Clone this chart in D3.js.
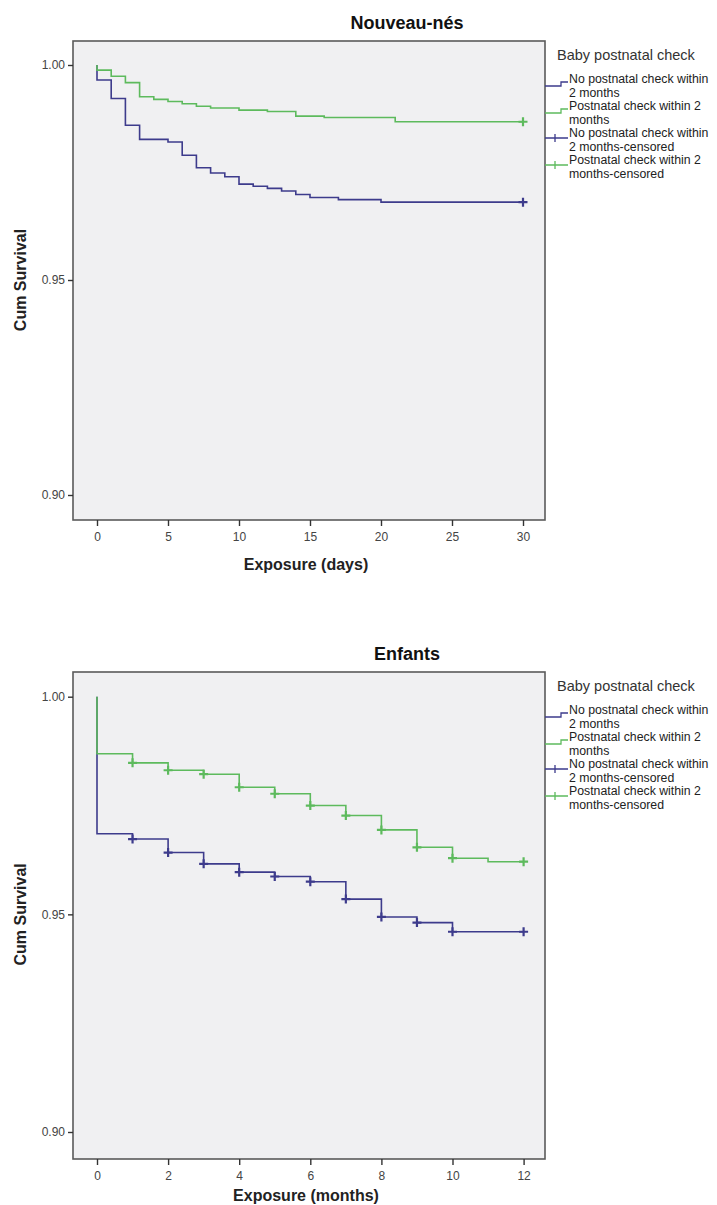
<!DOCTYPE html>
<html>
<head>
<meta charset="utf-8">
<script src="https://cdn.jsdelivr.net/npm/d3@7"></script>
<style>
  html, body { margin: 0; padding: 0; background: #ffffff; }
  svg { display: block; font-family: "Liberation Sans", Arial, sans-serif; }
</style>
</head>
<body>
<svg id="chart" width="717" height="1205"></svg>
<script>
// ---- Kaplan-Meier estimates: newborns (days) ----
const daysTicks = [0, 5, 10, 15, 20, 25, 30];
const noCheckDaysT = [0, 0, 1, 2, 3, 5, 6, 7, 8, 9, 10, 11, 12, 13, 14, 15, 17, 20, 30];
const noCheckDaysS = [1.0, 0.9965, 0.9922, 0.986, 0.9827, 0.9821, 0.979, 0.9761, 0.9749, 0.974, 0.9723, 0.9718, 0.9713, 0.9707, 0.9699, 0.9692, 0.9687, 0.9681, 0.9681];
const checkDaysT = [0, 0, 1, 2, 3, 4, 5, 6, 7, 8, 10, 12, 14, 16, 21, 30];
const checkDaysS = [1.0, 0.9988, 0.9974, 0.9959, 0.9926, 0.992, 0.9915, 0.991, 0.9904, 0.990, 0.9895, 0.9892, 0.9881, 0.9878, 0.9868, 0.9868];
const noCheckDaysCensT = [30];
const checkDaysCensT = [30];

// ---- Kaplan-Meier estimates: children (months) ----
const monthsTicks = [0, 2, 4, 6, 8, 10, 12];
const noCheckMonthsT = [0, 0, 1, 2, 3, 4, 5, 6, 7, 8, 9, 10, 12];
const noCheckMonthsS = [1.0, 0.9685, 0.9673, 0.9642, 0.9616, 0.9597, 0.9587, 0.9575, 0.9535, 0.9494, 0.9481, 0.9460, 0.9460];
const checkMonthsT = [0, 0, 1, 2, 3, 4, 5, 6, 7, 8, 9, 10, 11, 12];
const checkMonthsS = [1.0, 0.9869, 0.9848, 0.9831, 0.9822, 0.9792, 0.9777, 0.9750, 0.9727, 0.9694, 0.9654, 0.9629, 0.9621, 0.9621];
const noCheckMonthsCensT = [1, 2, 3, 4, 5, 6, 7, 8, 9, 10, 12];
const checkMonthsCensT = [1, 2, 3, 4, 5, 6, 7, 8, 9, 10, 12];

const survTicks = [0.90, 0.95, 1.00];
const legendTitle = "Baby postnatal check";
const legendLabels = [
  ["No postnatal check within", "2 months"],
  ["Postnatal check within 2", "months"],
  ["No postnatal check within", "2 months-censored"],
  ["Postnatal check within 2", "months-censored"]
];

const BLUE = "#3d3b8c";
const GREEN = "#5dba5d";

const svg = d3.select("#chart");

function panel(opt) {
  const g = svg.append("g");
  const x = d3.scaleLinear().domain(opt.xDomain).range(opt.xRange);
  const y = d3.scaleLinear().domain([0.90, 1.00]).range(opt.yRange);
  const f = opt.frame;

  // plot background + frame
  g.append("rect")
    .attr("x", f.left).attr("y", f.top)
    .attr("width", f.right - f.left).attr("height", f.bottom - f.top)
    .attr("fill", "#f0f0f2").attr("stroke", "#5a5a5a").attr("stroke-width", 1.6);

  // title
  g.append("text")
    .attr("x", 407).attr("y", opt.titleY)
    .attr("text-anchor", "middle")
    .attr("font-size", 18).attr("font-weight", "bold").attr("fill", "#111")
    .text(opt.title);

  // y axis
  const yAxis = d3.axisLeft(y).tickValues(survTicks).tickFormat(d3.format(".2f")).tickSize(5).tickPadding(3);
  const ya = g.append("g").attr("transform", `translate(${f.left},0)`).call(yAxis);
  ya.select(".domain").remove();
  ya.selectAll(".tick line").attr("stroke", "#333").attr("stroke-width", 1.4);
  ya.selectAll(".tick text").attr("font-size", 12).attr("fill", "#444")
    .attr("font-family", "Liberation Sans, Arial, sans-serif");

  // x axis
  const xAxis = d3.axisBottom(x).tickValues(opt.ticks).tickSize(6).tickPadding(6);
  const xa = g.append("g").attr("transform", `translate(0,${f.bottom})`).call(xAxis);
  xa.select(".domain").remove();
  xa.selectAll(".tick line").attr("stroke", "#333").attr("stroke-width", 1.4);
  xa.selectAll(".tick text").attr("font-size", 12).attr("fill", "#444")
    .attr("font-family", "Liberation Sans, Arial, sans-serif");

  // axis titles
  g.append("text")
    .attr("x", (f.left + f.right) / 2 - 3).attr("y", opt.xTitleY)
    .attr("text-anchor", "middle")
    .attr("font-size", 16).attr("font-weight", "bold").attr("fill", "#222")
    .text(opt.xTitle);
  g.append("text")
    .attr("transform", `translate(26,${y(0.95)}) rotate(-90)`)
    .attr("text-anchor", "middle")
    .attr("font-size", 16).attr("font-weight", "bold").attr("fill", "#222")
    .text("Cum Survival");

  // survival step curves
  const line = d3.line().x(d => x(d[0])).y(d => y(d[1])).curve(d3.curveStepAfter);
  opt.series.forEach(s => {
    const pts = s.t.map((t, i) => [t, s.s[i]]);
    g.append("path").datum(pts)
      .attr("d", line)
      .attr("fill", "none").attr("stroke", s.color).attr("stroke-width", 1.6);
  });

  // censor marks drawn at the survival value in effect at each time
  opt.series.forEach(s => {
    const valueAt = t => {
      let v = s.s[0];
      s.t.forEach((tt, i) => { if (tt <= t) v = s.s[i]; });
      return v;
    };
    s.cens.forEach(t => {
      const cx = x(t), cy = y(valueAt(t));
      g.append("path")
        .attr("d", `M${cx - 4.5},${cy}H${cx + 4.5}M${cx},${cy - 4.5}V${cy + 4.5}`)
        .attr("stroke", s.color).attr("stroke-width", 2.2).attr("fill", "none");
    });
  });

  // legend
  const lg = g.append("g");
  lg.append("text")
    .attr("x", 557).attr("y", f.top + 19)
    .attr("font-size", 14.5).attr("fill", "#333")
    .text(legendTitle);
  const colors = [BLUE, GREEN, BLUE, GREEN];
  legendLabels.forEach((lines, i) => {
    const y0 = f.top + 38 + i * 27;
    lines.forEach((ln, j) => {
      lg.append("text")
        .attr("x", 569).attr("y", y0 + j * 13.5 + 4)
        .attr("font-size", 12.3).attr("fill", "#222")
        .text(ln);
    });
    const iy = y0 + 5;
    if (i < 2) {
      lg.append("path")
        .attr("d", `M545,${iy + 2}H561V${iy - 2}H568`)
        .attr("fill", "none").attr("stroke", colors[i]).attr("stroke-width", 1.3);
    } else {
      lg.append("path")
        .attr("d", `M545,${iy}H568M555,${iy - 4}V${iy + 4}`)
        .attr("fill", "none").attr("stroke", colors[i]).attr("stroke-width", 1.3);
    }
  });
}

panel({
  title: "Nouveau-nés", titleY: 29,
  frame: { left: 73, right: 545, top: 41, bottom: 520 },
  xDomain: [0, 30], xRange: [97, 523], yRange: [495, 65],
  ticks: daysTicks, xTitle: "Exposure (days)", xTitleY: 570,
  series: [
    { t: noCheckDaysT, s: noCheckDaysS, cens: noCheckDaysCensT, color: BLUE },
    { t: checkDaysT, s: checkDaysS, cens: checkDaysCensT, color: GREEN }
  ]
});

panel({
  title: "Enfants", titleY: 660,
  frame: { left: 73, right: 545, top: 672, bottom: 1159 },
  xDomain: [0, 12], xRange: [97, 523.6], yRange: [1132, 696.7],
  ticks: monthsTicks, xTitle: "Exposure (months)", xTitleY: 1201,
  series: [
    { t: noCheckMonthsT, s: noCheckMonthsS, cens: noCheckMonthsCensT, color: BLUE },
    { t: checkMonthsT, s: checkMonthsS, cens: checkMonthsCensT, color: GREEN }
  ]
});
</script>
</body>
</html>
